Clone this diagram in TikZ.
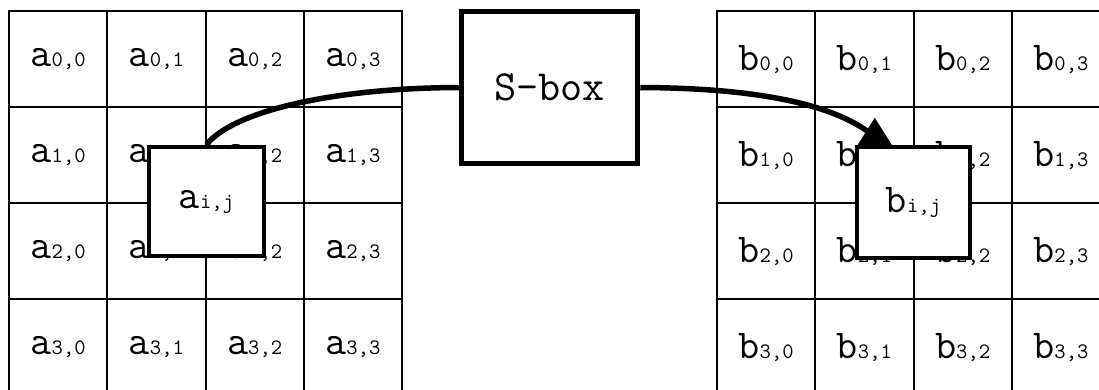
\documentclass[tikz,border=0pt]{standalone}
\newcommand\celllab[3]{{\fontsize{41}{41}\selectfont #1}{\fontsize{22}{22}\selectfont #2,#3}}
\begin{document}
\begin{tikzpicture}[x=1pt,y=-1pt,
  cell/.style={draw, line width=2pt, minimum width=98.25pt, minimum height=96pt, inner sep=0pt, outer sep=0pt, font=\ttfamily, anchor=north west},
  elem/.style={draw, fill=white, line width=4.5pt, inner sep=0pt, font=\ttfamily},
  sboxst/.style={draw, fill=white, line width=5.5pt, inner sep=0pt, minimum width=176pt, minimum height=152pt, font=\ttfamily\fontsize{43}{43}\selectfont},
  conn/.style={line width=5.5pt}]
\useasboundingbox (0,0) rectangle (1099,389);
\clip (0,0) rectangle (1099,389);
\fill[white] (0,0) rectangle (1099,389);
\foreach \r in {0,...,3}{
  \foreach \c in {0,...,3}{
    \node[cell] (a\r\c) at ({9+98.25*\c},{11+96*\r}) {\celllab{a}{\r}{\c}};
    \node[cell] (b\r\c) at ({717+98.25*\c},{11+96*\r}) {\celllab{b}{\r}{\c}};
  }
}
\node[sboxst] (sbox) at (549.5,87.5) {S-box};
\node[elem, minimum width=115pt, minimum height=109pt] (aij) at (206.5,201.5) {\celllab{a}{i}{j}};
\node[elem, minimum width=113pt, minimum height=111pt] (bij) at (913.5,202.5) {\celllab{b}{i}{j}};
\coordinate (tipend) at ([xshift=12pt,yshift=14pt]bij.north west);
\draw[conn] (aij.north) .. controls (232,112) and (330,88) .. (sbox.west);
\draw[conn] (sbox.east) .. controls (760,88) and (830,105) .. (tipend);
\node[sboxst] at (sbox) {S-box};
\node[elem, minimum width=115pt, minimum height=109pt] at (aij) {\celllab{a}{i}{j}};
\node[elem, minimum width=113pt, minimum height=111pt] at (bij) {\celllab{b}{i}{j}};
\fill ([xshift=3pt]bij.north west) -- ([xshift=37pt]bij.north west) -- ([xshift=20pt,yshift=27pt]bij.north west) -- cycle;
\end{tikzpicture}
\end{document}
